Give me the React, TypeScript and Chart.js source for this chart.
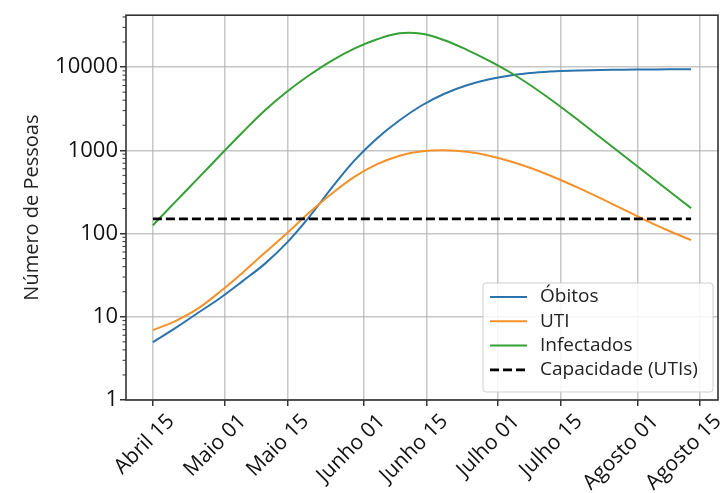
import React, { useEffect, useRef } from 'react';
import { Chart, registerables } from 'chart.js';

Chart.register(...registerables);

// Days counted from 15 April
const days = [0, 5, 10, 15, 20, 25, 30, 35, 40, 45, 50, 55, 60, 65, 70, 75, 80, 85, 90, 95, 100, 105, 110, 115, 120];
const obitos = [4.97, 7.32, 11.1, 16.8, 26.8, 43.5, 78.8, 162, 361, 761, 1397, 2297, 3478, 4780, 6046, 7137, 7973, 8544, 8905, 9105, 9232, 9309, 9360, 9386, 9412];
const uti = [6.92, 8.88, 12.5, 20.1, 33.9, 59.0, 102.5, 181, 305, 482, 681, 861, 975, 1003, 962, 861, 730, 593, 462, 351, 262, 194, 143, 108, 83.3];
const infectados = [126, 240, 457, 871, 1650, 3030, 5122, 8085, 12070, 16810, 21570, 25450, 25100, 20970, 16130, 11900, 8426, 5643, 3626, 2267, 1397, 861, 531, 327, 202];
const capacidadeDays = [0, 120];
const capacidade = 150;

const tickDays = [0, 16, 30, 47, 61, 77, 91, 108, 122];
const tickLabels = ['Abril 15', 'Maio 01', 'Maio 15', 'Junho 01', 'Junho 15', 'Julho 01', 'Julho 15', 'Agosto 01', 'Agosto 15'];
const yTicks = [1, 10, 100, 1000, 10000];

const FONT = "'Open Sans', sans-serif";

const framePlugin = {
  id: 'frameAndLegend',
  afterDatasetsDraw(chart: any) {
    const { ctx, chartArea } = chart;
    const { left, right, top, bottom } = chartArea;
    const y = chart.scales.y;
    ctx.save();
    ctx.strokeStyle = '#333';
    ctx.lineWidth = 1;
    for (let e = 0; e < 5; e++) {
      for (let m = 2; m <= 9; m++) {
        const v = m * Math.pow(10, e);
        if (v > y.max) continue;
        const py = y.getPixelForValue(v);
        ctx.beginPath();
        ctx.moveTo(left, py);
        ctx.lineTo(left - 3.5, py);
        ctx.stroke();
      }
    }
    ctx.lineWidth = 1.6;
    ctx.strokeRect(left, top, right - left, bottom - top);
    ctx.restore();
  },
  afterDraw(chart: any) {
    const { ctx, chartArea } = chart;
    const w = 230, h = 109;
    const x0 = chartArea.right - 5 - w;
    const y0 = chartArea.bottom - 8 - h;
    ctx.save();
    ctx.beginPath();
    ctx.roundRect(x0, y0, w, h, 3);
    ctx.fillStyle = 'rgba(255,255,255,0.85)';
    ctx.fill();
    ctx.strokeStyle = '#cfcfcf';
    ctx.lineWidth = 1;
    ctx.stroke();
    chart.data.datasets.forEach((ds: any, i: number) => {
      const yy = y0 + 14 + i * 24.3;
      ctx.beginPath();
      ctx.setLineDash(ds.borderDash || []);
      ctx.strokeStyle = ds.borderColor;
      ctx.lineWidth = ds.borderWidth;
      ctx.moveTo(x0 + 7, yy);
      ctx.lineTo(x0 + 44, yy);
      ctx.stroke();
      ctx.setLineDash([]);
      ctx.fillStyle = '#222';
      ctx.font = `19px ${FONT}`;
      ctx.textBaseline = 'middle';
      ctx.textAlign = 'left';
      ctx.fillText(ds.label, x0 + 57, yy);
    });
    ctx.restore();
  },
};

export default function App() {
  const ref = useRef<HTMLCanvasElement>(null);
  useEffect(() => {
    let chart: Chart | null = null;
    let cancelled = false;
    document.body.style.margin = '0';
    const build = () => {
      if (cancelled || !ref.current) return;
      const gridOpts = {
        color: 'rgba(175,175,175,0.7)',
        lineWidth: 1.5,
        tickColor: '#333',
        tickLength: 6,
        drawTicks: true,
      };
      chart = new Chart(ref.current, {
        type: 'line',
        data: {
          datasets: [
            {
              label: 'Óbitos',
              data: days.map((d, i) => ({ x: d, y: obitos[i] })),
              borderColor: '#2b73ad',
              borderWidth: 2,
              pointRadius: 0,
              tension: 0.35,
              order: 4,
            },
            {
              label: 'UTI',
              data: days.map((d, i) => ({ x: d, y: uti[i] })),
              borderColor: '#f5912a',
              borderWidth: 2,
              pointRadius: 0,
              tension: 0.35,
              order: 3,
            },
            {
              label: 'Infectados',
              data: days.map((d, i) => ({ x: d, y: infectados[i] })),
              borderColor: '#35a035',
              borderWidth: 2,
              pointRadius: 0,
              tension: 0.35,
              order: 2,
            },
            {
              label: 'Capacidade (UTIs)',
              data: capacidadeDays.map((d) => ({ x: d, y: capacidade })),
              borderColor: '#000',
              borderWidth: 2.6,
              borderDash: [9, 4],
              pointRadius: 0,
              order: 1,
            },
          ],
        } as any,
        options: {
          animation: false,
          responsive: false,
          maintainAspectRatio: false,
          layout: { padding: { top: 15, right: 7, left: 0, bottom: 0 } },
          plugins: { legend: { display: false }, tooltip: { enabled: false } },
          scales: {
            x: {
              type: 'linear',
              min: -6,
              max: 126,
              afterBuildTicks: (s: any) => {
                s.ticks = tickDays.map((v) => ({ value: v }));
              },
              afterFit: (s: any) => {
                s.height = 93;
              },
              grid: gridOpts,
              border: { display: false },
              ticks: {
                autoSkip: false,
                maxRotation: 45,
                minRotation: 45,
                labelOffset: 18,
                padding: 3,
                color: '#111',
                font: { family: FONT, size: 21 },
                callback: (v: any) => tickLabels[tickDays.indexOf(Number(v))] ?? '',
              },
            },
            y: {
              type: 'logarithmic',
              min: 1,
              max: 42000,
              afterBuildTicks: (s: any) => {
                s.ticks = yTicks.map((v) => ({ value: v, major: true }));
              },
              afterFit: (s: any) => {
                s.width = 126;
              },
              grid: gridOpts,
              border: { display: false },
              ticks: {
                padding: 2,
                color: '#111',
                font: { family: FONT, size: 22 },
                callback: (v: any) => String(v),
              },
              title: {
                display: true,
                text: 'Número de Pessoas',
                color: '#222',
                font: { family: FONT, size: 20 },
                padding: { top: 20, bottom: 0 },
              },
            },
          },
        } as any,
        plugins: [framePlugin],
      });
    };
    if ((document as any).fonts && (document as any).fonts.load) {
      Promise.all([
        (document as any).fonts.load(`19px 'Open Sans'`),
        (document as any).fonts.load(`22px 'Open Sans'`),
      ]).then(build, build);
    } else {
      build();
    }
    return () => {
      cancelled = true;
      if (chart) chart.destroy();
    };
  }, []);
  return (
    <div style={{ position: 'absolute', left: 0, top: 0, width: 725, height: 493 }}>
      <canvas ref={ref} width={725} height={493} style={{ width: 725, height: 493, display: 'block' }} />
    </div>
  );
}
